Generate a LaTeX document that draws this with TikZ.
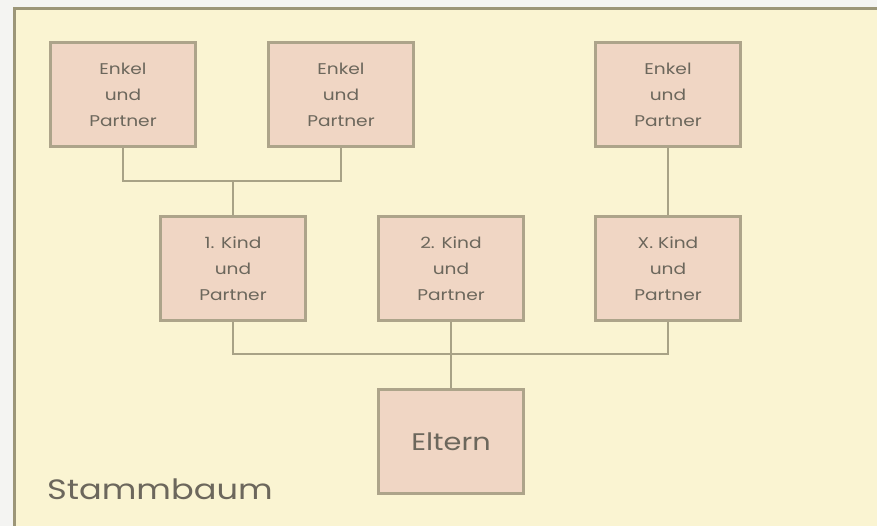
\documentclass[tikz,border=0pt]{standalone}
\usepackage{fontspec}
\setmainfont{Poppins}
\newfontfamily\widefont[FakeStretch=1.2]{Poppins}
\definecolor{paper}{HTML}{FAF4D2}
\definecolor{outside}{HTML}{F4F4F2}
\definecolor{frameline}{HTML}{9C9678}
\definecolor{boxfill}{HTML}{F0D6C4}
\definecolor{boxline}{HTML}{ADA48A}
\definecolor{linkline}{HTML}{A8A286}
\definecolor{ink}{HTML}{6C675C}
\begin{document}
\begin{tikzpicture}[x=1pt,y=-1pt,
  person/.style={draw=boxline,line width=2.6pt,fill=boxfill,minimum width=145pt,minimum height=104pt,
    inner sep=0pt,text=ink,font=\widefont\fontsize{15.5}{26}\selectfont,align=center},
  link/.style={draw=linkline,line width=2.2pt}]
  \useasboundingbox (0,0) rectangle (877,526);
  \fill[outside] (0,0) rectangle (877,526);
  % paper sheet with its frame
  \fill[paper] (14,8) rectangle (877,526);
  \draw[frameline,line width=3pt] (14,530) -- (14,9) -- (880,9);
  % grandchildren
  \node[person] (e1) at (123,94.5) {Enkel\\und\\Partner};
  \node[person] (e2) at (341,94.5) {Enkel\\und\\Partner};
  \node[person] (e3) at (668,94.5) {Enkel\\und\\Partner};
  % children
  \node[person] (k1) at (233,268.5) {1. Kind\\und\\Partner};
  \node[person] (k2) at (451,268.5) {2. Kind\\und\\Partner};
  \node[person] (kx) at (668,268.5) {X. Kind\\und\\Partner};
  % parents
  \node[person,font=\widefont\fontsize{24}{26}\selectfont] (p) at (451,441.5) {Eltern};
  \coordinate (j1) at (233,181);
  \coordinate (j2) at (451,354);
  % connectors
  \draw[link] (e1.south) |- (j1) -| (e2.south);
  \draw[link] (j1) -- (k1.north);
  \draw[link] (e3.south) -- (kx.north);
  \draw[link] (k1.south) |- (j2) -| (kx.south);
  \draw[link] (k2.south) -- (p.north);
  \node[text=ink,font=\widefont\fontsize{28}{30}\selectfont,anchor=base west,inner sep=0pt] (title) at (47,499) {Stammbaum};
\end{tikzpicture}
\end{document}
